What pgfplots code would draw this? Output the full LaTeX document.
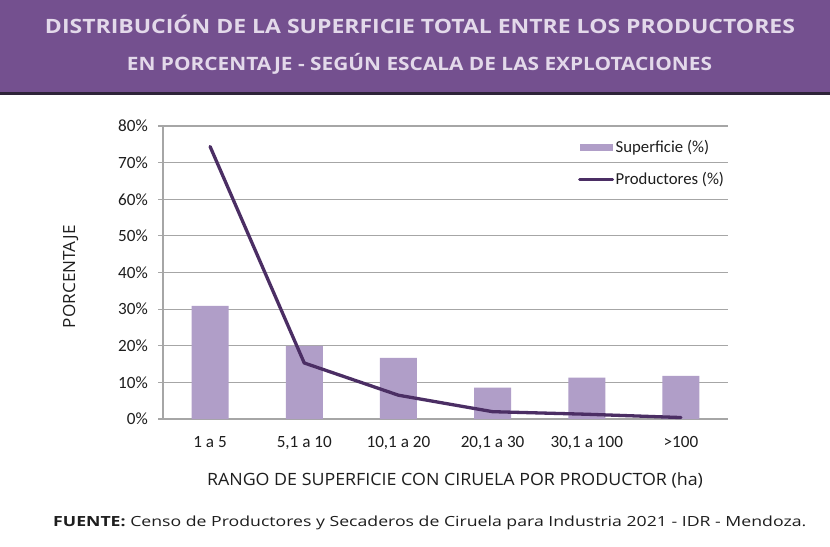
\documentclass[border=0pt]{standalone}
\usepackage{fontspec}
\setmainfont{Carlito}
\newfontfamily\osans{Open Sans}
\usepackage{graphicx}
\usepackage{pgfplots}
\pgfplotsset{compat=1.18}
\definecolor{hdr}{HTML}{74508F}
\definecolor{hdrline}{HTML}{2E2438}
\definecolor{ttl}{HTML}{E3D9EA}
\definecolor{barc}{HTML}{B09EC8}
\definecolor{linec}{HTML}{4B2E64}
\definecolor{gridc}{HTML}{A6A6A6}
\definecolor{txt}{HTML}{1E1E1E}
\begin{document}
\begin{tikzpicture}
\path[use as bounding box] (0,0) rectangle (830bp,-547bp);
\fill[white] (0,0) rectangle (830bp,-547bp);
\fill[hdr] (0,0) rectangle (830bp,-93bp);
\draw[hdrline, line width=2.5bp] (0,-93.5bp) -- (830bp,-93.5bp);
\node[anchor=base, inner sep=0, text=ttl] at (420bp,-34bp) {\resizebox{750bp}{\height}{\osans\bfseries\fontsize{19.8}{22}\selectfont DISTRIBUCIÓN DE LA SUPERFICIE TOTAL ENTRE LOS PRODUCTORES}};
\node[anchor=base, inner sep=0, text=ttl] at (419.5bp,-70bp) {\resizebox{585bp}{\height}{\osans\bfseries\fontsize{18.5}{20}\selectfont EN PORCENTAJE - SEGÚN ESCALA DE LAS EXPLOTACIONES}};
\begin{axis}[
  at={(163bp,-419bp)}, anchor=south west,
  scale only axis, width=565bp, height=293bp,
  xmin=-0.5, xmax=5.5, ymin=0, ymax=80,
  xtick={0,1,2,3,4,5},
  xticklabels={1 a 5,{5,1 a 10},{10,1 a 20},{20,1 a 30},{30,1 a 100},>100},
  ytick={0,10,...,80},
  yticklabel={\pgfmathprintnumber{\tick}\%},
  /pgf/number format/assume math mode=true,
  axis x line*=bottom, axis y line*=left,
  axis line style={gridc, line width=1.2bp, -},
  ymajorgrids, grid style={gridc, line width=1.2bp},
  tick align=outside, major tick length=5bp,
  xtick style={draw=none},
  ytick style={gridc, line width=1.2bp},
  tick label style={font=\fontsize{17.2}{18}\selectfont, text=txt},
  yticklabel style={inner sep=0pt, xshift=-10bp},
  xticklabel style={inner sep=0pt, anchor=base, yshift=-23.5bp},
  legend style={at={(0.7345,0.9556)}, anchor=north west, draw=none, fill=none,
    row sep=15bp, inner sep=0pt,
    nodes={inner sep=1.5bp, font=\fontsize{16.8}{18}\selectfont, text=txt}},
  legend cell align=left,
]
\addplot[ybar, bar width=37bp, bar shift=0pt, fill=barc, draw=none,
  legend image code/.code={\fill[barc] (0bp,-3.5bp) rectangle (33bp,3.5bp);}]
  coordinates {(0,30.9) (1,20.0) (2,16.7) (3,8.6) (4,11.3) (5,11.8)};
\addlegendentry{Superficie (\%)}
\addplot[linec, line width=3.3bp, line cap=round, line join=round, mark=none,
  legend image code/.code={\draw[linec, line width=3bp] (0bp,0bp) -- (33bp,0bp);}]
  coordinates {(0,74.4) (1,15.3) (2,6.5) (3,2.0) (4,1.3) (5,0.4)};
\addlegendentry{Productores (\%)}
\end{axis}
\node[anchor=base, rotate=90, inner sep=0, text=txt] at (75bp,-276.5bp) {\resizebox{103bp}{\height}{\osans\fontsize{16.8}{18}\selectfont PORCENTAJE}};
\node[anchor=base, inner sep=0, text=txt] at (455bp,-485bp) {\resizebox{496bp}{\height}{\osans\fontsize{17}{19}\selectfont RANGO DE SUPERFICIE CON CIRUELA POR PRODUCTOR (ha)}};
\node[anchor=base west, inner sep=0, text=txt] at (53bp,-526.7bp) {\resizebox{753bp}{\height}{\osans\fontsize{14}{16}\selectfont {\bfseries FUENTE:} Censo de Productores y Secaderos de Ciruela para Industria 2021 - IDR - Mendoza.}};
\end{tikzpicture}
\end{document}
